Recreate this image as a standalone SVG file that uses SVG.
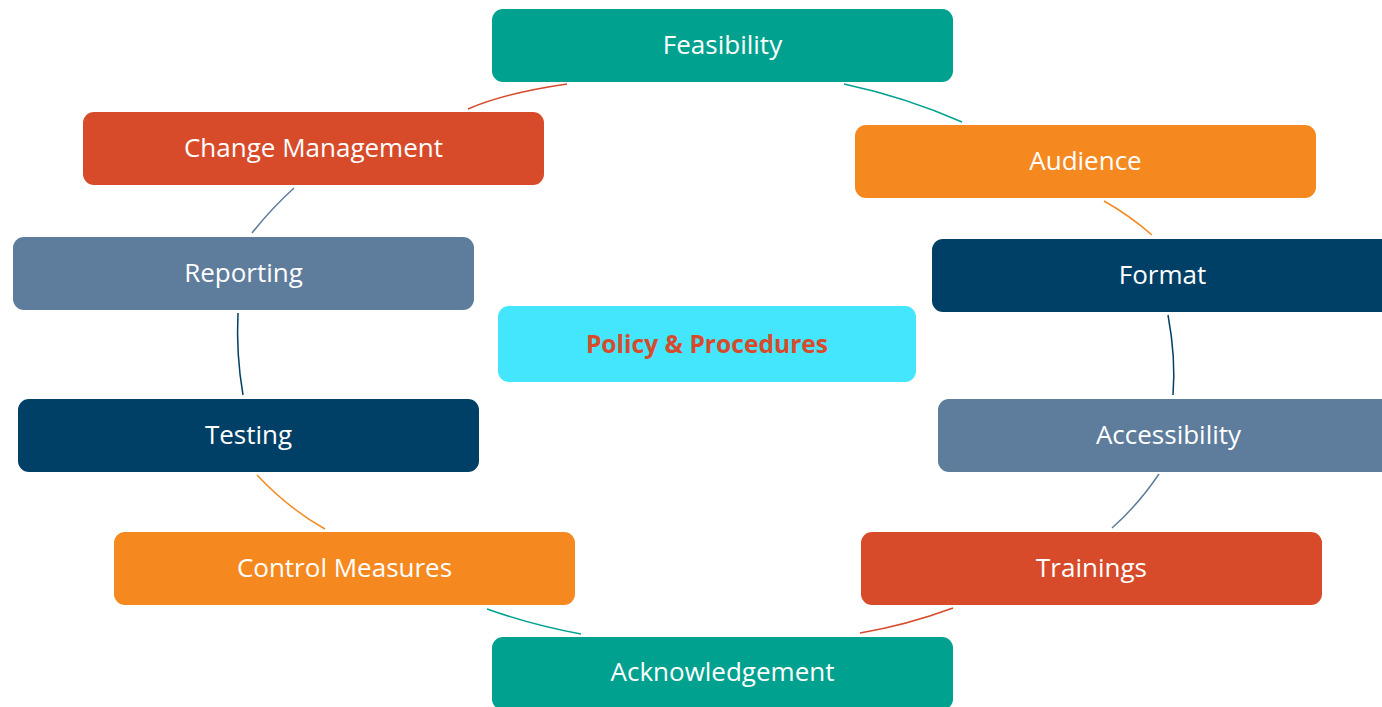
<svg xmlns="http://www.w3.org/2000/svg" width="1382" height="707" viewBox="0 0 1382 707">
<style>
.box{stroke:none}
.t{font-family:"Open Sans","Noto Sans","Liberation Sans",sans-serif;font-size:26px;fill:#ffffff;text-anchor:middle;dominant-baseline:central}
.tb{font-family:"Open Sans","Noto Sans","Liberation Sans",sans-serif;font-size:24.6px;font-weight:bold;fill:#D84B2A;text-anchor:middle;dominant-baseline:central}
.c{fill:none;stroke-width:1.5}
.teal{fill:#00A28F}.red{fill:#D84B2A}.orange{fill:#F5891F}.slate{fill:#5E7C9B}.navy{fill:#003F66}.cyan{fill:#44E6FD}
</style>
<rect width="1382" height="707" fill="#ffffff"/>
<g id="connectors">
<path class="c" stroke="#D84B2A" d="M468,109 Q505,93 567,84"/>
<path class="c" stroke="#00A28F" d="M844,84 Q905,97 962,122"/>
<path class="c" stroke="#F5891F" d="M1104,201 Q1129,215 1152,235"/>
<path class="c" stroke="#003F66" d="M1168,315 Q1176,358 1173,395"/>
<path class="c" stroke="#5E7C9B" d="M1159,474 Q1138,505 1112,528"/>
<path class="c" stroke="#D84B2A" d="M953,608 Q907,625 860,633"/>
<path class="c" stroke="#00A28F" d="M487,609 Q532,625 581,634"/>
<path class="c" stroke="#F5891F" d="M257,475 Q289,509 325,529"/>
<path class="c" stroke="#003F66" d="M238,313 Q236,354 243,395"/>
<path class="c" stroke="#5E7C9B" d="M294,188 Q271,209 252,233"/>
</g>
<g id="feasibility"><rect class="box teal" x="492" y="9" width="461" height="73" rx="11"/><text class="t" x="722.5" y="43.5">Feasibility</text></g>
<g id="change-management"><rect class="box red" x="83" y="112" width="461" height="73" rx="11"/><text class="t" x="313.5" y="146.5">Change Management</text></g>
<g id="audience"><rect class="box orange" x="855" y="125" width="461" height="73" rx="11"/><text class="t" x="1085.5" y="159.5">Audience</text></g>
<g id="reporting"><rect class="box slate" x="13" y="237" width="461" height="73" rx="11"/><text class="t" x="243.5" y="271.5">Reporting</text></g>
<g id="format"><rect class="box navy" x="932" y="239" width="461" height="73" rx="11"/><text class="t" x="1162.5" y="273.5">Format</text></g>
<g id="policy-procedures"><rect class="box cyan" x="498" y="306" width="418" height="76" rx="11"/><text class="tb" x="707" y="343.5">Policy &amp; Procedures</text></g>
<g id="testing"><rect class="box navy" x="18" y="399" width="461" height="73" rx="11"/><text class="t" x="248.5" y="433.5">Testing</text></g>
<g id="accessibility"><rect class="box slate" x="938" y="399" width="461" height="73" rx="11"/><text class="t" x="1168.5" y="433.5">Accessibility</text></g>
<g id="control-measures"><rect class="box orange" x="114" y="532" width="461" height="73" rx="11"/><text class="t" x="344.5" y="566.5">Control Measures</text></g>
<g id="trainings"><rect class="box red" x="861" y="532" width="461" height="73" rx="11"/><text class="t" x="1091.5" y="566.5">Trainings</text></g>
<g id="acknowledgement"><rect class="box teal" x="492" y="637" width="461" height="73" rx="11"/><text class="t" x="722.5" y="671">Acknowledgement</text></g>
</svg>
